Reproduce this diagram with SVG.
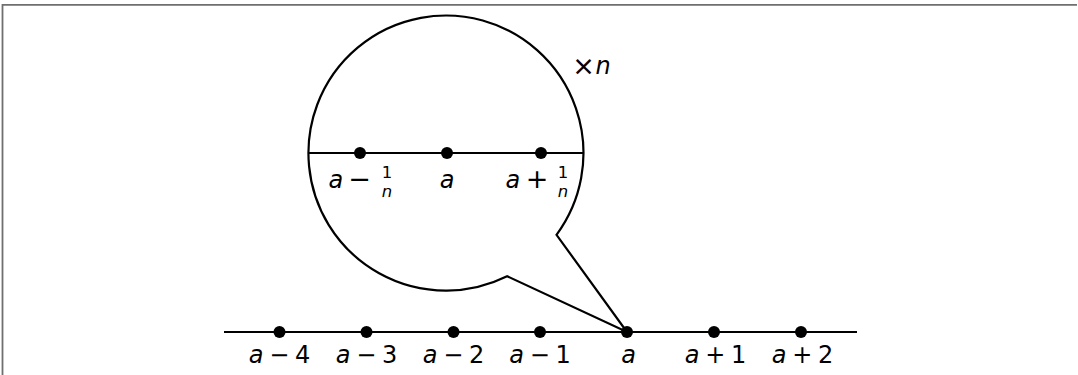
<svg xmlns="http://www.w3.org/2000/svg" width="1078" height="375" viewBox="0 0 1078 375">
<style>
.ln{fill:none;stroke:#000;stroke-width:2.2;stroke-linejoin:miter}
.dot{fill:#000}
.t{font-family:"DejaVu Sans","Liberation Sans",sans-serif;font-size:24px;fill:#000;word-spacing:-2px}
.m{text-anchor:middle}
.i{font-style:italic}
.f{font-family:"DejaVu Sans","Liberation Sans",sans-serif;font-size:16.5px;fill:#000;text-anchor:middle}
</style>
<rect x="0" y="0" width="1078" height="375" fill="#fff"/>
<path d="M2.5 375 V4.8 H1077" fill="none" stroke="#6f6f6f" stroke-width="1.8"/>
<g id="connectors">
<path id="bubble" class="ln" d="M556.5 234.8 A137.5 137.5 0 1 0 507.1 276.2 L627 332 Z"/>
<line id="inner-axis" class="ln" x1="308.5" y1="153" x2="583.5" y2="153"/>
<line id="main-axis" class="ln" x1="224" y1="332" x2="857" y2="332"/>
</g>
<g id="scale-label"><text class="t m" x="583.5" y="74.5" style="font-size:27px">×</text><text class="t i" x="595.5" y="74">n</text></g>
<g id="inner-a-minus">
<circle class="dot" cx="360" cy="153" r="6"/>
<text class="t i" x="328.5" y="188">a</text>
<text class="t m" x="359.5" y="188" style="font-size:27px">−</text>
<text class="f" x="387" y="178">1</text>
<text class="f i" x="387" y="197">n</text>
</g>
<g id="inner-a">
<circle class="dot" cx="447" cy="153" r="6"/>
<text class="t m i" x="447" y="188">a</text>
</g>
<g id="inner-a-plus">
<circle class="dot" cx="541" cy="153" r="6"/>
<text class="t i" x="505.5" y="188">a</text>
<text class="t m" x="537" y="188" style="font-size:27px">+</text>
<text class="f" x="563" y="178">1</text>
<text class="f i" x="563" y="197">n</text>
</g>
<g id="n-a-4"><circle class="dot" cx="279.5" cy="332" r="6"/><text class="t m" x="279.5" y="363"><tspan class="i">a</tspan> − 4</text></g>
<g id="n-a-3"><circle class="dot" cx="366.5" cy="332" r="6"/><text class="t m" x="366.5" y="363"><tspan class="i">a</tspan> − 3</text></g>
<g id="n-a-2"><circle class="dot" cx="453.5" cy="332" r="6"/><text class="t m" x="453.5" y="363"><tspan class="i">a</tspan> − 2</text></g>
<g id="n-a-1"><circle class="dot" cx="540" cy="332" r="6"/><text class="t m" x="540" y="363"><tspan class="i">a</tspan> − 1</text></g>
<g id="n-a"><circle class="dot" cx="627" cy="332" r="6"/><text class="t m i" x="628.5" y="363">a</text></g>
<g id="n-a+1"><circle class="dot" cx="714" cy="332" r="6"/><text class="t m" x="715.5" y="363"><tspan class="i">a</tspan> + 1</text></g>
<g id="n-a+2"><circle class="dot" cx="801" cy="332" r="6"/><text class="t m" x="802.5" y="363"><tspan class="i">a</tspan> + 2</text></g>
</svg>
